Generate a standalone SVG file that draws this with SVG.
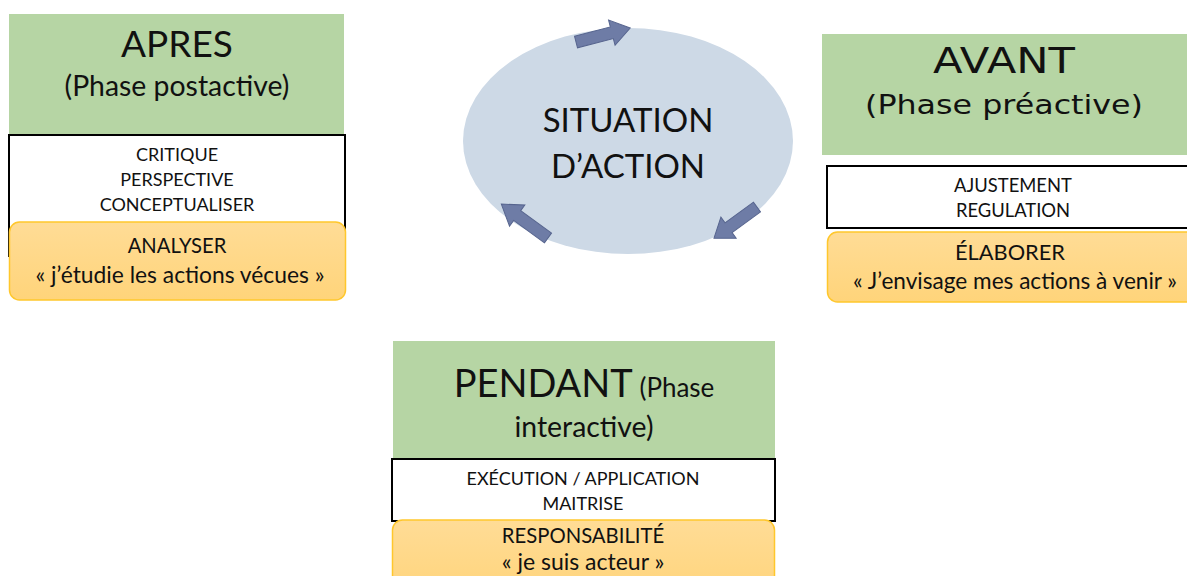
<svg xmlns="http://www.w3.org/2000/svg" width="1187" height="576" viewBox="0 0 1187 576">
<style>
.green{fill:#b6d5a4}
.white{fill:#ffffff;stroke:#000000;stroke-width:2}
.orange{fill:url(#og);stroke:#ffc72c;stroke-width:1.5}
.t{font-family:Lato,"Liberation Sans",sans-serif;fill:#111;text-anchor:middle}
.w{font-family:"DejaVu Sans","Liberation Sans",sans-serif;fill:#111;text-anchor:middle}
.arrow{fill:#6e7ca6;stroke:#56648e;stroke-width:1}
</style>
<defs>
<linearGradient id="og" x1="0" y1="0" x2="0" y2="1">
<stop offset="0" stop-color="#ffdc96"/>
<stop offset="1" stop-color="#ffd47a"/>
</linearGradient>
<polygon id="blk" points="0,-6 37,-6 37,-13 56,0 37,13 37,6 0,6"/>
</defs>
<rect width="1187" height="576" fill="#ffffff"/>

<g id="situation">
<ellipse cx="628" cy="141" rx="165" ry="113" fill="#cdd9e6"/>
<text class="t" x="628" y="132" font-size="33">SITUATION</text>
<text class="t" x="628" y="178" font-size="33">D’ACTION</text>
</g>

<g id="connectors">
<use href="#blk" class="arrow" transform="translate(576,42) rotate(-14.5)"/>
<use href="#blk" class="arrow" transform="translate(757,207) rotate(144) scale(0.95,1)"/>
<use href="#blk" class="arrow" transform="translate(548,238) rotate(-144) scale(1.03,1)"/>
</g>

<g id="apres">
<rect class="green" x="9" y="14" width="335" height="120"/>
<text class="t" x="177" y="57" font-size="37">APRES</text>
<text class="t" x="177" y="96" font-size="28.4">(Phase postactive)</text>
<path d="M9,257 V135 H345 V230" fill="#ffffff" stroke="#000" stroke-width="2"/>
<text class="t" x="177" y="161" font-size="18">CRITIQUE</text>
<text class="t" x="177" y="186" font-size="18">PERSPECTIVE</text>
<text class="t" x="177" y="211" font-size="18">CONCEPTUALISER</text>
<rect class="orange" x="9.5" y="222" width="336" height="78" rx="10"/>
<text class="t" x="177" y="253" font-size="20.2">ANALYSER</text>
<text class="t" x="180" y="283" font-size="22.8">« j’étudie les actions vécues »</text>
</g>

<g id="avant">
<rect class="green" x="822" y="34" width="365" height="121"/>
<text class="w" x="1004" y="73" font-size="35" textLength="142" lengthAdjust="spacingAndGlyphs">AVANT</text>
<text class="w" x="1004" y="114" font-size="27" textLength="278" lengthAdjust="spacingAndGlyphs">(Phase préactive)</text>
<rect class="white" x="827" y="166" width="362" height="62"/>
<text class="t" x="1013" y="192" font-size="18.4">AJUSTEMENT</text>
<text class="t" x="1013" y="217" font-size="18.4">REGULATION</text>
<rect class="orange" x="827.5" y="232" width="370" height="70" rx="10"/>
<text class="t" x="1010" y="260" font-size="21.8">ÉLABORER</text>
<text class="t" x="1015" y="289" font-size="22.6">« J’envisage mes actions à venir »</text>
</g>

<g id="pendant">
<rect class="green" x="393" y="341" width="382" height="118"/>
<text class="t" x="584" y="397"><tspan font-size="38">PENDANT</tspan><tspan font-size="26"> (Phase</tspan></text>
<text class="t" x="584" y="437" font-size="28.4">interactive)</text>
<rect class="white" x="392" y="459" width="383" height="62"/>
<text class="t" x="583" y="485" font-size="18">EXÉCUTION / APPLICATION</text>
<text class="t" x="583" y="510" font-size="18">MAITRISE</text>
<rect class="orange" x="392.5" y="520" width="382" height="80" rx="10"/>
<text class="t" x="583" y="543" font-size="20.3">RESPONSABILITÉ</text>
<text class="t" x="583" y="570" font-size="23">« je suis acteur »</text>
</g>
</svg>
